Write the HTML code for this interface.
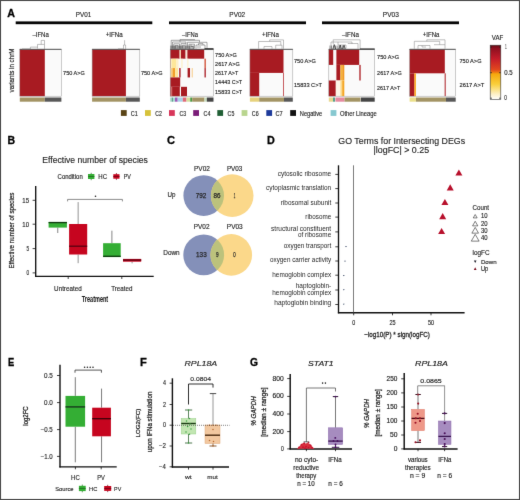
<!DOCTYPE html>
<html><head><meta charset="utf-8"><style>
html,body{margin:0;padding:0;background:#fff;}
svg{display:block;}

text{font-family:"Liberation Sans", sans-serif;}
</style></head><body>
<svg width="520" height="500" viewBox="0 0 520 500">
<defs><linearGradient id="vaf" x1="0" y1="0" x2="0" y2="1"><stop offset="0" stop-color="#6a0a14"/><stop offset="0.06" stop-color="#8e1020"/><stop offset="0.25" stop-color="#c41c2a"/><stop offset="0.45" stop-color="#e2481e"/><stop offset="0.50" stop-color="#ef7a12"/><stop offset="0.53" stop-color="#f6a80c"/><stop offset="0.72" stop-color="#f9cf3c"/><stop offset="0.9" stop-color="#fdf0c4"/><stop offset="1" stop-color="#ffffff"/></linearGradient><clipPath id="cl195"><circle cx="203.7" cy="195.6" r="20.3"/></clipPath><clipPath id="cl254"><circle cx="203.7" cy="254.9" r="20.4"/></clipPath><filter id="bl" x="0" y="0" width="520" height="500" filterUnits="userSpaceOnUse" color-interpolation-filters="sRGB"><feConvolveMatrix order="3" kernelMatrix="0.00524 0.06192 0.00524 0.06192 0.73137 0.06192 0.00524 0.06192 0.00524" divisor="1" edgeMode="duplicate" preserveAlpha="true"/></filter></defs>
<g filter="url(#bl)">
<rect x="0.00" y="0.00" width="520.00" height="500.00" fill="#fff" />
<text x="7.30" y="17.00" font-size="10.90" fill="#000" stroke="#000" stroke-width="0.3" font-weight="bold" font-style="normal" textLength="7.70" lengthAdjust="spacingAndGlyphs">A</text>
<rect x="15.70" y="21.40" width="136.60" height="2.80" fill="#050505" />
<rect x="169.00" y="21.40" width="137.00" height="2.80" fill="#050505" />
<rect x="322.00" y="21.40" width="137.00" height="2.80" fill="#050505" />
<text x="75.80" y="17.00" font-size="7.25" fill="#262626" stroke="#262626" stroke-width="0.14" font-weight="normal" font-style="normal" textLength="15.50" lengthAdjust="spacingAndGlyphs">PV01</text>
<text x="229.30" y="17.00" font-size="7.25" fill="#262626" stroke="#262626" stroke-width="0.14" font-weight="normal" font-style="normal" textLength="15.90" lengthAdjust="spacingAndGlyphs">PV02</text>
<text x="382.80" y="17.00" font-size="7.25" fill="#262626" stroke="#262626" stroke-width="0.14" font-weight="normal" font-style="normal" textLength="16.10" lengthAdjust="spacingAndGlyphs">PV03</text>
<text x="32.40" y="37.10" font-size="6.62" fill="#262626" stroke="#262626" stroke-width="0.14" font-weight="normal" font-style="normal" textLength="16.40" lengthAdjust="spacingAndGlyphs">–IFNa</text>
<text x="105.70" y="37.10" font-size="6.62" fill="#262626" stroke="#262626" stroke-width="0.14" font-weight="normal" font-style="normal" textLength="17.10" lengthAdjust="spacingAndGlyphs">+IFNa</text>
<text x="182.10" y="37.10" font-size="6.62" fill="#262626" stroke="#262626" stroke-width="0.14" font-weight="normal" font-style="normal" textLength="15.90" lengthAdjust="spacingAndGlyphs">–IFNa</text>
<text x="261.90" y="37.10" font-size="6.62" fill="#262626" stroke="#262626" stroke-width="0.14" font-weight="normal" font-style="normal" textLength="17.00" lengthAdjust="spacingAndGlyphs">+IFNa</text>
<text x="341.90" y="37.10" font-size="6.62" fill="#262626" stroke="#262626" stroke-width="0.14" font-weight="normal" font-style="normal" textLength="17.00" lengthAdjust="spacingAndGlyphs">–IFNa</text>
<text x="422.70" y="37.10" font-size="6.62" fill="#262626" stroke="#262626" stroke-width="0.14" font-weight="normal" font-style="normal" textLength="16.70" lengthAdjust="spacingAndGlyphs">+IFNa</text>
<text x="14.30" y="92.40" font-size="7.14" fill="#262626" stroke="#262626" stroke-width="0.2" font-weight="normal" font-style="normal" textLength="43.80" lengthAdjust="spacingAndGlyphs" transform="rotate(-90 14.30 92.40)">variants in chrM</text>
<rect x="19.80" y="49.30" width="41.60" height="46.90" fill="#fafafa" />
<rect x="19.80" y="49.30" width="25.00" height="46.90" fill="#a81b22" />
<rect x="19.80" y="49.30" width="41.60" height="46.90" fill="none" stroke="#9a9a9a" stroke-width="0.5"/>
<line x1="19.80" y1="49.30" x2="61.40" y2="49.30" stroke="#4a4a4a" stroke-width="0.9" />
<rect x="19.80" y="97.50" width="25.00" height="4.20" fill="#a39464" />
<rect x="44.80" y="97.50" width="16.60" height="4.20" fill="#575757" />
<path d="M30.4 49.0 L30.4 47.1 L37.5 47.1" stroke="#8a8a8a" stroke-width="0.55" fill="none" />
<path d="M37.5 48.5 L37.5 44.4 L44.5 44.4 L44.5 49.0" stroke="#8a8a8a" stroke-width="0.55" fill="none" />
<path d="M41.2 44.4 L41.2 40.4 L44.5 40.4 L44.5 44.4" stroke="#8a8a8a" stroke-width="0.55" fill="none" />
<path d="M22.0 48.8 L30.4 48.8" stroke="#8a8a8a" stroke-width="0.55" fill="none" />
<text x="63.10" y="75.20" font-size="5.78" fill="#262626" stroke="#262626" stroke-width="0.14" font-weight="normal" font-style="normal" textLength="21.70" lengthAdjust="spacingAndGlyphs">750 A&gt;G</text>
<rect x="92.10" y="49.30" width="47.70" height="46.90" fill="#fafafa" />
<rect x="92.10" y="49.30" width="33.80" height="46.90" fill="#a81b22" />
<rect x="92.10" y="49.30" width="47.70" height="46.90" fill="none" stroke="#9a9a9a" stroke-width="0.5"/>
<line x1="92.10" y1="49.30" x2="139.80" y2="49.30" stroke="#4a4a4a" stroke-width="0.9" />
<rect x="92.10" y="97.50" width="33.80" height="4.20" fill="#a39464" />
<rect x="125.90" y="97.50" width="13.90" height="4.20" fill="#575757" />
<path d="M118.0 48.8 L123.5 48.8" stroke="#8a8a8a" stroke-width="0.55" fill="none" />
<path d="M123.5 49.0 L123.5 45.0 L125.6 45.0 L125.6 49.0" stroke="#8a8a8a" stroke-width="0.55" fill="none" />
<path d="M124.6 45.0 L124.6 40.2" stroke="#8a8a8a" stroke-width="0.55" fill="none" />
<text x="140.90" y="75.20" font-size="5.78" fill="#262626" stroke="#262626" stroke-width="0.14" font-weight="normal" font-style="normal" textLength="21.80" lengthAdjust="spacingAndGlyphs">750 A&gt;G</text>
<rect x="170.20" y="49.30" width="43.30" height="46.90" fill="#fafafa" />
<rect x="170.20" y="49.30" width="9.40" height="9.38" fill="#a81b22" />
<rect x="179.60" y="49.30" width="1.40" height="9.38" fill="#f3d0b0" />
<rect x="181.00" y="49.30" width="4.60" height="9.38" fill="#a81b22" />
<rect x="185.60" y="49.30" width="1.80" height="9.38" fill="#f8e8d8" />
<rect x="187.40" y="49.30" width="16.80" height="9.38" fill="#a81b22" />
<rect x="170.20" y="58.68" width="0.80" height="9.38" fill="#e7b090" />
<rect x="171.40" y="58.68" width="4.60" height="9.38" fill="#fde79a" />
<rect x="176.00" y="58.68" width="2.50" height="9.38" fill="#fdf0c8" />
<rect x="181.30" y="58.68" width="1.30" height="9.38" fill="#fdf0c8" />
<rect x="187.30" y="58.68" width="1.10" height="9.38" fill="#fdf0c8" />
<rect x="204.50" y="58.68" width="1.30" height="9.38" fill="#cf4a2e" />
<rect x="170.20" y="68.06" width="1.10" height="9.38" fill="#f7e0b0" />
<rect x="171.30" y="68.06" width="1.30" height="9.38" fill="#f7c060" />
<rect x="172.60" y="68.06" width="2.60" height="9.38" fill="#f1a02a" />
<rect x="175.20" y="68.06" width="2.80" height="9.38" fill="#fde79a" />
<rect x="179.20" y="68.06" width="1.40" height="9.38" fill="#a81b22" />
<rect x="187.60" y="68.06" width="2.40" height="9.38" fill="#a81b22" />
<rect x="191.60" y="68.06" width="1.40" height="9.38" fill="#f8d8a8" />
<rect x="204.50" y="68.06" width="1.30" height="9.38" fill="#a81b22" />
<rect x="170.20" y="77.44" width="10.00" height="9.38" fill="#a81b22" />
<rect x="170.20" y="86.82" width="1.20" height="9.38" fill="#a81b22" />
<rect x="171.40" y="86.82" width="0.70" height="9.38" fill="#d04a4a" />
<rect x="172.10" y="86.82" width="7.70" height="9.38" fill="#a81b22" />
<rect x="181.00" y="86.82" width="6.00" height="9.38" fill="#a81b22" />
<rect x="170.20" y="49.30" width="43.30" height="46.90" fill="none" stroke="#9a9a9a" stroke-width="0.5"/>
<line x1="170.20" y1="49.30" x2="213.50" y2="49.30" stroke="#4a4a4a" stroke-width="0.9" />
<rect x="170.20" y="97.50" width="1.50" height="4.20" fill="#a8d8c8" />
<rect x="171.70" y="97.50" width="1.30" height="4.20" fill="#5f9e8e" />
<rect x="173.00" y="97.50" width="2.00" height="4.20" fill="#a8d8d0" />
<rect x="175.00" y="97.50" width="2.70" height="4.20" fill="#9b59b6" />
<rect x="177.70" y="97.50" width="5.10" height="4.20" fill="#a8d0e8" />
<rect x="182.80" y="97.50" width="3.70" height="4.20" fill="#e06a78" />
<rect x="186.50" y="97.50" width="3.70" height="4.20" fill="#d6e0a0" />
<rect x="190.20" y="97.50" width="2.00" height="4.20" fill="#4f9a45" />
<rect x="192.20" y="97.50" width="12.30" height="4.20" fill="#a39464" />
<rect x="204.50" y="97.50" width="2.30" height="4.20" fill="#c8e0c0" />
<rect x="206.80" y="97.50" width="6.70" height="4.20" fill="#454545" />
<path d="M171.2 48.5 L171.2 40.3 L199.5 40.3 L199.5 42.3" stroke="#5e5e5e" stroke-width="0.55" fill="none" />
<path d="M172.5 48.5 L172.5 42.0 L186.0 42.0 L186.0 43.6" stroke="#5e5e5e" stroke-width="0.55" fill="none" />
<path d="M180.0 42.0 L180.0 39.6 L195.0 39.6" stroke="#5e5e5e" stroke-width="0.55" fill="none" />
<path d="M187.5 48.5 L187.5 42.3 L207.0 42.3 L207.0 48.5" stroke="#5e5e5e" stroke-width="0.55" fill="none" />
<path d="M173.8 48.5 L173.8 43.8 L179.5 43.8 L179.5 48.5" stroke="#5e5e5e" stroke-width="0.55" fill="none" />
<path d="M175.2 48.5 L175.2 45.4 L178.0 45.4 L178.0 48.5" stroke="#5e5e5e" stroke-width="0.55" fill="none" />
<path d="M181.0 48.5 L181.0 43.6 L186.0 43.6 L186.0 48.5" stroke="#5e5e5e" stroke-width="0.55" fill="none" />
<path d="M182.6 48.5 L182.6 45.2 L185.0 45.2" stroke="#5e5e5e" stroke-width="0.55" fill="none" />
<path d="M189.0 48.5 L189.0 44.2 L194.5 44.2 L194.5 48.5" stroke="#5e5e5e" stroke-width="0.55" fill="none" />
<path d="M191.0 44.2 L191.0 46.5 L193.0 46.5" stroke="#5e5e5e" stroke-width="0.55" fill="none" />
<path d="M196.0 48.5 L196.0 45.0 L205.0 45.0 L205.0 48.5" stroke="#5e5e5e" stroke-width="0.55" fill="none" />
<path d="M198.5 45.0 L198.5 43.6 L203.0 43.6 L203.0 45.0" stroke="#5e5e5e" stroke-width="0.55" fill="none" />
<path d="M197.0 47.0 L201.0 47.0" stroke="#5e5e5e" stroke-width="0.55" fill="none" />
<line x1="170.80" y1="45.60" x2="170.80" y2="49.00" stroke="#1a1a1a" stroke-width="0.5" />
<line x1="172.00" y1="45.60" x2="172.00" y2="49.00" stroke="#1a1a1a" stroke-width="0.5" />
<line x1="173.20" y1="45.60" x2="173.20" y2="49.00" stroke="#1a1a1a" stroke-width="0.5" />
<line x1="174.40" y1="45.60" x2="174.40" y2="49.00" stroke="#1a1a1a" stroke-width="0.5" />
<line x1="175.60" y1="45.60" x2="175.60" y2="49.00" stroke="#1a1a1a" stroke-width="0.5" />
<line x1="176.80" y1="45.60" x2="176.80" y2="49.00" stroke="#1a1a1a" stroke-width="0.5" />
<line x1="178.00" y1="45.60" x2="178.00" y2="49.00" stroke="#1a1a1a" stroke-width="0.5" />
<line x1="179.30" y1="45.60" x2="179.30" y2="49.00" stroke="#1a1a1a" stroke-width="0.5" />
<line x1="180.60" y1="45.60" x2="180.60" y2="49.00" stroke="#1a1a1a" stroke-width="0.5" />
<line x1="181.80" y1="45.60" x2="181.80" y2="49.00" stroke="#1a1a1a" stroke-width="0.5" />
<line x1="183.00" y1="45.60" x2="183.00" y2="49.00" stroke="#1a1a1a" stroke-width="0.5" />
<line x1="184.20" y1="45.60" x2="184.20" y2="49.00" stroke="#1a1a1a" stroke-width="0.5" />
<line x1="185.40" y1="45.60" x2="185.40" y2="49.00" stroke="#1a1a1a" stroke-width="0.5" />
<line x1="186.80" y1="45.60" x2="186.80" y2="49.00" stroke="#1a1a1a" stroke-width="0.5" />
<line x1="188.20" y1="45.60" x2="188.20" y2="49.00" stroke="#1a1a1a" stroke-width="0.5" />
<line x1="189.50" y1="45.60" x2="189.50" y2="49.00" stroke="#1a1a1a" stroke-width="0.5" />
<line x1="190.80" y1="45.60" x2="190.80" y2="49.00" stroke="#1a1a1a" stroke-width="0.5" />
<line x1="192.20" y1="45.60" x2="192.20" y2="49.00" stroke="#1a1a1a" stroke-width="0.5" />
<line x1="193.50" y1="45.60" x2="193.50" y2="49.00" stroke="#1a1a1a" stroke-width="0.5" />
<line x1="204.50" y1="48.80" x2="213.50" y2="48.80" stroke="#111" stroke-width="1.0" />
<text x="215.10" y="56.60" font-size="5.78" fill="#262626" stroke="#262626" stroke-width="0.14" font-weight="normal" font-style="normal" textLength="21.80" lengthAdjust="spacingAndGlyphs">750 A&gt;G</text>
<text x="215.10" y="65.90" font-size="5.78" fill="#262626" stroke="#262626" stroke-width="0.14" font-weight="normal" font-style="normal" textLength="24.60" lengthAdjust="spacingAndGlyphs">2617 A&gt;G</text>
<text x="215.10" y="75.30" font-size="5.78" fill="#262626" stroke="#262626" stroke-width="0.14" font-weight="normal" font-style="normal" textLength="23.10" lengthAdjust="spacingAndGlyphs">2617 A&gt;T</text>
<text x="215.10" y="84.30" font-size="5.78" fill="#262626" stroke="#262626" stroke-width="0.14" font-weight="normal" font-style="normal" textLength="27.10" lengthAdjust="spacingAndGlyphs">14443 C&gt;T</text>
<text x="215.10" y="93.70" font-size="5.78" fill="#262626" stroke="#262626" stroke-width="0.14" font-weight="normal" font-style="normal" textLength="27.10" lengthAdjust="spacingAndGlyphs">15833 C&gt;T</text>
<rect x="249.90" y="49.30" width="42.90" height="46.90" fill="#fafafa" />
<rect x="249.90" y="49.30" width="33.60" height="23.60" fill="#a81b22" />
<rect x="249.90" y="72.90" width="9.30" height="23.30" fill="#a81b22" />
<rect x="283.00" y="72.90" width="0.90" height="23.30" fill="#c04a50" />
<rect x="249.90" y="49.30" width="42.90" height="46.90" fill="none" stroke="#9a9a9a" stroke-width="0.5"/>
<line x1="249.90" y1="49.30" x2="292.80" y2="49.30" stroke="#4a4a4a" stroke-width="0.9" />
<rect x="249.90" y="97.50" width="9.30" height="4.20" fill="#e6d27c" />
<rect x="259.20" y="97.50" width="24.80" height="4.20" fill="#a39464" />
<rect x="284.00" y="97.50" width="8.80" height="4.20" fill="#575757" />
<path d="M258.6 48.8 L258.6 41.5 L280.8 41.5 L280.8 45.2" stroke="#8a8a8a" stroke-width="0.55" fill="none" />
<path d="M269.7 41.5 L269.7 39.9 L283.5 39.9 L283.5 48.8" stroke="#8a8a8a" stroke-width="0.55" fill="none" />
<path d="M275.7 48.8 L275.7 45.2 L282.0 45.2 L282.0 48.8" stroke="#8a8a8a" stroke-width="0.55" fill="none" />
<path d="M264.0 48.8 L264.0 46.5 L272.0 46.5 L272.0 48.8" stroke="#8a8a8a" stroke-width="0.55" fill="none" />
<text x="293.90" y="63.30" font-size="5.78" fill="#262626" stroke="#262626" stroke-width="0.14" font-weight="normal" font-style="normal" textLength="22.00" lengthAdjust="spacingAndGlyphs">750 A&gt;G</text>
<text x="293.90" y="86.50" font-size="5.78" fill="#262626" stroke="#262626" stroke-width="0.14" font-weight="normal" font-style="normal" textLength="28.00" lengthAdjust="spacingAndGlyphs">15833 C&gt;T</text>
<rect x="328.80" y="49.30" width="45.90" height="46.90" fill="#fafafa" />
<rect x="328.80" y="49.30" width="4.40" height="15.60" fill="#a81b22" />
<rect x="336.40" y="49.30" width="22.80" height="15.60" fill="#a81b22" />
<rect x="336.40" y="64.90" width="4.00" height="15.60" fill="#a81b22" />
<rect x="340.40" y="64.90" width="1.80" height="15.60" fill="#f4b43a" />
<rect x="342.20" y="64.90" width="2.10" height="15.60" fill="#f29a20" />
<rect x="359.30" y="64.90" width="1.40" height="15.60" fill="#b02a30" />
<rect x="328.80" y="80.50" width="7.00" height="15.70" fill="#a81b22" />
<rect x="335.80" y="80.50" width="4.60" height="15.70" fill="#fdf6e8" />
<rect x="340.40" y="80.50" width="1.80" height="15.70" fill="#fbd98a" />
<rect x="342.20" y="80.50" width="2.10" height="15.70" fill="#f5a623" />
<rect x="328.80" y="49.30" width="45.90" height="46.90" fill="none" stroke="#9a9a9a" stroke-width="0.5"/>
<line x1="328.80" y1="49.30" x2="374.70" y2="49.30" stroke="#4a4a4a" stroke-width="0.9" />
<rect x="328.80" y="97.50" width="4.20" height="4.20" fill="#e8d890" />
<rect x="333.00" y="97.50" width="2.00" height="4.20" fill="#5aa08a" />
<rect x="335.40" y="97.50" width="9.10" height="4.20" fill="#e58aa0" />
<rect x="344.50" y="97.50" width="15.90" height="4.20" fill="#a39464" />
<rect x="360.80" y="97.50" width="13.90" height="4.20" fill="#454545" />
<path d="M333.2 44.0 L333.2 39.8 L360.1 39.8 L360.1 48.8" stroke="#8a8a8a" stroke-width="0.55" fill="none" />
<path d="M331.0 48.5 L331.0 42.0 L352.0 42.0 L352.0 44.0" stroke="#8a8a8a" stroke-width="0.55" fill="none" />
<path d="M338.0 42.0 L338.0 45.0 L346.0 45.0 L346.0 48.5" stroke="#8a8a8a" stroke-width="0.55" fill="none" />
<path d="M348.0 44.0 L348.0 43.5 L358.0 43.5 L358.0 48.8" stroke="#8a8a8a" stroke-width="0.55" fill="none" />
<line x1="330.00" y1="45.50" x2="330.00" y2="49.00" stroke="#222" stroke-width="0.5" />
<line x1="331.60" y1="45.50" x2="331.60" y2="49.00" stroke="#222" stroke-width="0.5" />
<line x1="334.00" y1="45.50" x2="334.00" y2="49.00" stroke="#222" stroke-width="0.5" />
<line x1="335.60" y1="45.50" x2="335.60" y2="49.00" stroke="#222" stroke-width="0.5" />
<line x1="337.20" y1="45.50" x2="337.20" y2="49.00" stroke="#222" stroke-width="0.5" />
<line x1="339.00" y1="45.50" x2="339.00" y2="49.00" stroke="#222" stroke-width="0.5" />
<line x1="340.60" y1="45.50" x2="340.60" y2="49.00" stroke="#222" stroke-width="0.5" />
<line x1="342.40" y1="45.50" x2="342.40" y2="49.00" stroke="#222" stroke-width="0.5" />
<line x1="344.00" y1="45.50" x2="344.00" y2="49.00" stroke="#222" stroke-width="0.5" />
<path d="M332.9 49 L334.2 44.5 L335.5 49" stroke="#111" stroke-width="0.6" fill="none" />
<path d="M338.9 49 L340.2 45.0 L341.5 49" stroke="#111" stroke-width="0.6" fill="none" />
<path d="M342.7 49 L344.0 45.2 L345.3 49" stroke="#111" stroke-width="0.6" fill="none" />
<line x1="360.00" y1="48.90" x2="374.70" y2="48.90" stroke="#222" stroke-width="0.8" />
<text x="377.10" y="59.30" font-size="5.78" fill="#262626" stroke="#262626" stroke-width="0.14" font-weight="normal" font-style="normal" textLength="22.00" lengthAdjust="spacingAndGlyphs">750 A&gt;G</text>
<text x="377.10" y="75.30" font-size="5.78" fill="#262626" stroke="#262626" stroke-width="0.14" font-weight="normal" font-style="normal" textLength="24.60" lengthAdjust="spacingAndGlyphs">2617 A&gt;G</text>
<text x="377.10" y="90.20" font-size="5.78" fill="#262626" stroke="#262626" stroke-width="0.14" font-weight="normal" font-style="normal" textLength="23.10" lengthAdjust="spacingAndGlyphs">2617 A&gt;T</text>
<rect x="409.60" y="49.30" width="46.10" height="46.90" fill="#fafafa" />
<rect x="409.60" y="49.30" width="35.20" height="24.00" fill="#a81b22" />
<rect x="409.60" y="73.30" width="4.40" height="22.90" fill="#a81b22" />
<rect x="414.00" y="73.30" width="0.80" height="22.90" fill="#f07a20" />
<rect x="414.80" y="73.30" width="1.20" height="22.90" fill="#f8b030" />
<rect x="444.60" y="73.30" width="1.20" height="22.90" fill="#b84248" />
<rect x="409.60" y="49.30" width="46.10" height="46.90" fill="none" stroke="#9a9a9a" stroke-width="0.5"/>
<line x1="409.60" y1="49.30" x2="455.70" y2="49.30" stroke="#4a4a4a" stroke-width="0.9" />
<rect x="409.60" y="97.50" width="6.40" height="4.20" fill="#ebe08c" />
<rect x="416.00" y="97.50" width="30.00" height="4.20" fill="#a39464" />
<rect x="446.00" y="97.50" width="9.70" height="4.20" fill="#575757" />
<path d="M426.8 41.3 L426.8 39.8 L445.0 39.8 L445.0 48.8" stroke="#8a8a8a" stroke-width="0.55" fill="none" />
<path d="M414.3 48.8 L414.3 41.3 L439.7 41.3 L439.7 44.7" stroke="#8a8a8a" stroke-width="0.55" fill="none" />
<path d="M434.0 44.7 L445.0 44.7" stroke="#8a8a8a" stroke-width="0.55" fill="none" />
<path d="M418.0 48.8 L418.0 45.5 L430.0 45.5 L430.0 48.8" stroke="#8a8a8a" stroke-width="0.55" fill="none" />
<path d="M422.0 45.5 L422.0 47.0 L426.0 47.0" stroke="#8a8a8a" stroke-width="0.55" fill="none" />
<text x="459.50" y="63.30" font-size="5.78" fill="#262626" stroke="#262626" stroke-width="0.14" font-weight="normal" font-style="normal" textLength="22.00" lengthAdjust="spacingAndGlyphs">750 A&gt;G</text>
<text x="459.50" y="86.50" font-size="5.78" fill="#262626" stroke="#262626" stroke-width="0.14" font-weight="normal" font-style="normal" textLength="24.80" lengthAdjust="spacingAndGlyphs">2617 A&gt;T</text>
<rect x="490.2" y="45.2" width="10.6" height="54.2" fill="url(#vaf)" stroke="#3a3a3a" stroke-width="0.6"/>
<line x1="490.20" y1="47.10" x2="492.00" y2="47.10" stroke="#222" stroke-width="0.7" />
<line x1="499.00" y1="47.10" x2="500.80" y2="47.10" stroke="#222" stroke-width="0.7" />
<line x1="490.20" y1="72.70" x2="492.00" y2="72.70" stroke="#222" stroke-width="0.7" />
<line x1="499.00" y1="72.70" x2="500.80" y2="72.70" stroke="#222" stroke-width="0.7" />
<line x1="490.20" y1="98.20" x2="492.00" y2="98.20" stroke="#222" stroke-width="0.7" />
<line x1="499.00" y1="98.20" x2="500.80" y2="98.20" stroke="#222" stroke-width="0.7" />
<text x="491.80" y="39.50" font-size="6.51" fill="#262626" stroke="#262626" stroke-width="0.14" font-weight="normal" font-style="normal" textLength="11.50" lengthAdjust="spacingAndGlyphs">VAF</text>
<text x="505.30" y="49.30" font-size="6.30" fill="#262626" stroke="#262626" stroke-width="0.14" font-weight="normal" font-style="normal" textLength="1.30" lengthAdjust="spacingAndGlyphs">1</text>
<text x="504.30" y="75.10" font-size="6.30" fill="#262626" stroke="#262626" stroke-width="0.14" font-weight="normal" font-style="normal" textLength="8.40" lengthAdjust="spacingAndGlyphs">0.5</text>
<text x="504.30" y="100.10" font-size="6.30" fill="#262626" stroke="#262626" stroke-width="0.14" font-weight="normal" font-style="normal" textLength="2.60" lengthAdjust="spacingAndGlyphs">0</text>
<rect x="120.90" y="110.10" width="5.80" height="5.80" fill="#5a4416" />
<text x="130.70" y="115.70" font-size="6.72" fill="#262626" stroke="#262626" stroke-width="0.14" font-weight="normal" font-style="normal" textLength="7.00" lengthAdjust="spacingAndGlyphs">C1</text>
<rect x="145.00" y="110.10" width="5.80" height="5.80" fill="#d6c23a" />
<text x="155.30" y="115.70" font-size="6.72" fill="#262626" stroke="#262626" stroke-width="0.14" font-weight="normal" font-style="normal" textLength="6.60" lengthAdjust="spacingAndGlyphs">C2</text>
<rect x="169.00" y="110.10" width="5.80" height="5.80" fill="#d8365a" />
<text x="179.60" y="115.70" font-size="6.72" fill="#262626" stroke="#262626" stroke-width="0.14" font-weight="normal" font-style="normal" textLength="6.60" lengthAdjust="spacingAndGlyphs">C3</text>
<rect x="193.20" y="110.10" width="5.80" height="5.80" fill="#7a1c78" />
<text x="203.60" y="115.70" font-size="6.72" fill="#262626" stroke="#262626" stroke-width="0.14" font-weight="normal" font-style="normal" textLength="6.90" lengthAdjust="spacingAndGlyphs">C4</text>
<rect x="217.30" y="110.10" width="5.80" height="5.80" fill="#1f5e34" />
<text x="227.60" y="115.70" font-size="6.72" fill="#262626" stroke="#262626" stroke-width="0.14" font-weight="normal" font-style="normal" textLength="6.70" lengthAdjust="spacingAndGlyphs">C5</text>
<rect x="241.60" y="110.10" width="5.80" height="5.80" fill="#b9d58e" />
<text x="251.80" y="115.70" font-size="6.72" fill="#262626" stroke="#262626" stroke-width="0.14" font-weight="normal" font-style="normal" textLength="6.80" lengthAdjust="spacingAndGlyphs">C6</text>
<rect x="266.30" y="110.10" width="5.80" height="5.80" fill="#1d3a9a" />
<text x="275.50" y="115.70" font-size="6.72" fill="#262626" stroke="#262626" stroke-width="0.14" font-weight="normal" font-style="normal" textLength="7.20" lengthAdjust="spacingAndGlyphs">C7</text>
<rect x="290.20" y="110.10" width="5.80" height="5.80" fill="#111111" />
<text x="299.80" y="115.70" font-size="6.72" fill="#262626" stroke="#262626" stroke-width="0.14" font-weight="normal" font-style="normal" textLength="22.40" lengthAdjust="spacingAndGlyphs">Negative</text>
<rect x="330.60" y="110.10" width="5.80" height="5.80" fill="#86c8d0" />
<text x="339.90" y="115.70" font-size="6.72" fill="#262626" stroke="#262626" stroke-width="0.14" font-weight="normal" font-style="normal" textLength="36.80" lengthAdjust="spacingAndGlyphs">Other Lineage</text>
<text x="7.50" y="143.60" font-size="10.90" fill="#000" stroke="#000" stroke-width="0.3" font-weight="bold" font-style="normal" textLength="7.60" lengthAdjust="spacingAndGlyphs">B</text>
<text x="42.30" y="162.70" font-size="9.03" fill="#262626" stroke="#262626" stroke-width="0.14" font-weight="normal" font-style="normal" textLength="105.60" lengthAdjust="spacingAndGlyphs">Effective number of species</text>
<text x="57.60" y="178.70" font-size="6.30" fill="#262626" stroke="#262626" stroke-width="0.14" font-weight="normal" font-style="normal" textLength="25.10" lengthAdjust="spacingAndGlyphs">Condition</text>
<line x1="91.20" y1="172.80" x2="91.20" y2="180.20" stroke="#1f6a1f" stroke-width="0.7" />
<rect x="88.00" y="174.00" width="6.40" height="5.00" fill="#34ae34" />
<line x1="88.00" y1="176.50" x2="94.40" y2="176.50" stroke="#1f6a1f" stroke-width="0.8" />
<text x="98.30" y="178.80" font-size="6.30" fill="#262626" stroke="#262626" stroke-width="0.14" font-weight="normal" font-style="normal" textLength="8.70" lengthAdjust="spacingAndGlyphs">HC</text>
<line x1="116.40" y1="173.00" x2="116.40" y2="179.90" stroke="#6a0010" stroke-width="0.7" />
<rect x="113.30" y="174.20" width="6.20" height="4.50" fill="#c6051f" />
<line x1="113.30" y1="176.45" x2="119.50" y2="176.45" stroke="#6a0010" stroke-width="0.8" />
<text x="123.80" y="178.80" font-size="6.30" fill="#262626" stroke="#262626" stroke-width="0.14" font-weight="normal" font-style="normal" textLength="7.10" lengthAdjust="spacingAndGlyphs">PV</text>
<line x1="35.70" y1="186.00" x2="35.70" y2="276.90" stroke="#111111" stroke-width="1.35" />
<line x1="35.20" y1="276.40" x2="153.70" y2="276.40" stroke="#111111" stroke-width="1.4" />
<line x1="32.60" y1="200.30" x2="35.70" y2="200.30" stroke="#111111" stroke-width="0.8" />
<text x="22.30" y="202.60" font-size="6.93" fill="#262626" stroke="#262626" stroke-width="0.14" font-weight="normal" font-style="normal" textLength="6.70" lengthAdjust="spacingAndGlyphs">15</text>
<line x1="32.60" y1="224.20" x2="35.70" y2="224.20" stroke="#111111" stroke-width="0.8" />
<text x="22.30" y="226.50" font-size="6.93" fill="#262626" stroke="#262626" stroke-width="0.14" font-weight="normal" font-style="normal" textLength="6.70" lengthAdjust="spacingAndGlyphs">10</text>
<line x1="32.60" y1="248.60" x2="35.70" y2="248.60" stroke="#111111" stroke-width="0.8" />
<text x="26.40" y="250.90" font-size="6.93" fill="#262626" stroke="#262626" stroke-width="0.14" font-weight="normal" font-style="normal" textLength="2.60" lengthAdjust="spacingAndGlyphs">5</text>
<line x1="32.60" y1="272.90" x2="35.70" y2="272.90" stroke="#111111" stroke-width="0.8" />
<text x="26.40" y="275.20" font-size="6.93" fill="#262626" stroke="#262626" stroke-width="0.14" font-weight="normal" font-style="normal" textLength="2.60" lengthAdjust="spacingAndGlyphs">0</text>
<text x="14.10" y="268.60" font-size="7.14" fill="#262626" stroke="#262626" stroke-width="0.22" font-weight="normal" font-style="normal" textLength="76.00" lengthAdjust="spacingAndGlyphs" transform="rotate(-90 14.10 268.60)">Effective number of species</text>
<line x1="68.20" y1="276.40" x2="68.20" y2="279.00" stroke="#111111" stroke-width="0.8" />
<line x1="121.80" y1="276.40" x2="121.80" y2="279.00" stroke="#111111" stroke-width="0.8" />
<text x="54.10" y="291.00" font-size="6.51" fill="#262626" stroke="#262626" stroke-width="0.14" font-weight="normal" font-style="normal" textLength="27.60" lengthAdjust="spacingAndGlyphs">Untreated</text>
<text x="111.20" y="291.00" font-size="6.51" fill="#262626" stroke="#262626" stroke-width="0.14" font-weight="normal" font-style="normal" textLength="21.20" lengthAdjust="spacingAndGlyphs">Treated</text>
<text x="81.80" y="301.80" font-size="9.03" fill="#1a1a1a" stroke="#1a1a1a" stroke-width="0.05" font-weight="bold" font-style="normal" textLength="26.40" lengthAdjust="spacingAndGlyphs">Treatment</text>
<line x1="57.75" y1="227.60" x2="57.75" y2="233.00" stroke="#777" stroke-width="0.9" />
<rect x="48.60" y="221.90" width="18.30" height="5.70" fill="#34ae34" />
<line x1="48.60" y1="222.60" x2="66.90" y2="222.60" stroke="#0e3a0e" stroke-width="1.3" />
<line x1="78.15" y1="202.10" x2="78.15" y2="224.00" stroke="#888" stroke-width="0.9" />
<line x1="78.15" y1="254.50" x2="78.15" y2="263.20" stroke="#888" stroke-width="0.9" />
<rect x="69.10" y="224.00" width="18.10" height="30.50" fill="#c6051f" />
<line x1="69.10" y1="246.20" x2="87.20" y2="246.20" stroke="#5a0010" stroke-width="1.3" />
<line x1="111.90" y1="230.70" x2="111.90" y2="243.20" stroke="#777" stroke-width="0.9" />
<rect x="103.10" y="243.20" width="17.60" height="13.90" fill="#34ae34" />
<line x1="103.10" y1="256.30" x2="120.70" y2="256.30" stroke="#0e3a0e" stroke-width="1.3" />
<line x1="132.10" y1="261.70" x2="132.10" y2="263.30" stroke="#888" stroke-width="0.9" />
<rect x="123.00" y="258.90" width="18.20" height="2.80" fill="#c6051f" />
<line x1="123.00" y1="260.10" x2="141.20" y2="260.10" stroke="#5a0010" stroke-width="1.3" />
<path d="M67.6 201.4 V199.4 H122.4 V201.4" stroke="#666" stroke-width="0.75" fill="none" />
<circle cx="95.50" cy="196.30" r="0.8" fill="#222"/>
<text x="167.10" y="143.70" font-size="10.90" fill="#000" stroke="#000" stroke-width="0.3" font-weight="bold" font-style="normal" textLength="8.00" lengthAdjust="spacingAndGlyphs">C</text>
<circle cx="203.7" cy="195.6" r="20.3" fill="#8490b9"/>
<circle cx="232.20000000000002" cy="195.6" r="21.299999999999997" fill="#fbd88a"/>
<circle cx="232.20000000000002" cy="195.6" r="21.299999999999997" fill="#bcc27c" clip-path="url(#cl195)"/>
<text x="194.00" y="170.90" font-size="6.51" fill="#262626" stroke="#262626" stroke-width="0.14" font-weight="normal" font-style="normal" textLength="15.90" lengthAdjust="spacingAndGlyphs">PV02</text>
<text x="226.90" y="170.90" font-size="6.51" fill="#262626" stroke="#262626" stroke-width="0.14" font-weight="normal" font-style="normal" textLength="15.50" lengthAdjust="spacingAndGlyphs">PV03</text>
<text x="167.60" y="196.90" font-size="6.51" fill="#262626" stroke="#262626" stroke-width="0.14" font-weight="normal" font-style="normal" textLength="8.00" lengthAdjust="spacingAndGlyphs">Up</text>
<text x="195.80" y="197.90" font-size="6.93" fill="#262626" stroke="#262626" stroke-width="0.25" font-weight="normal" font-style="normal" textLength="10.60" lengthAdjust="spacingAndGlyphs">792</text>
<text x="213.60" y="197.90" font-size="6.93" fill="#262626" stroke="#262626" stroke-width="0.25" font-weight="normal" font-style="normal" textLength="7.00" lengthAdjust="spacingAndGlyphs">86</text>
<text x="233.80" y="197.90" font-size="6.93" fill="#262626" stroke="#262626" stroke-width="0.25" font-weight="normal" font-style="normal" textLength="1.50" lengthAdjust="spacingAndGlyphs">1</text>
<circle cx="203.7" cy="254.9" r="20.4" fill="#8490b9"/>
<circle cx="231.3" cy="254.9" r="20.799999999999997" fill="#fbd88a"/>
<circle cx="231.3" cy="254.9" r="20.799999999999997" fill="#bcc27c" clip-path="url(#cl254)"/>
<text x="193.80" y="229.10" font-size="6.51" fill="#262626" stroke="#262626" stroke-width="0.14" font-weight="normal" font-style="normal" textLength="15.70" lengthAdjust="spacingAndGlyphs">PV02</text>
<text x="226.80" y="229.10" font-size="6.51" fill="#262626" stroke="#262626" stroke-width="0.14" font-weight="normal" font-style="normal" textLength="15.90" lengthAdjust="spacingAndGlyphs">PV03</text>
<text x="163.30" y="254.80" font-size="6.51" fill="#262626" stroke="#262626" stroke-width="0.14" font-weight="normal" font-style="normal" textLength="16.40" lengthAdjust="spacingAndGlyphs">Down</text>
<text x="196.10" y="257.20" font-size="6.93" fill="#262626" stroke="#262626" stroke-width="0.25" font-weight="normal" font-style="normal" textLength="10.60" lengthAdjust="spacingAndGlyphs">133</text>
<text x="215.90" y="257.20" font-size="6.93" fill="#262626" stroke="#262626" stroke-width="0.25" font-weight="normal" font-style="normal" textLength="2.60" lengthAdjust="spacingAndGlyphs">9</text>
<text x="233.30" y="257.20" font-size="6.93" fill="#262626" stroke="#262626" stroke-width="0.25" font-weight="normal" font-style="normal" textLength="2.40" lengthAdjust="spacingAndGlyphs">0</text>
<text x="267.10" y="143.50" font-size="10.90" fill="#000" stroke="#000" stroke-width="0.3" font-weight="bold" font-style="normal" textLength="7.80" lengthAdjust="spacingAndGlyphs">D</text>
<text x="338.30" y="144.10" font-size="9.13" fill="#262626" stroke="#262626" stroke-width="0.14" font-weight="normal" font-style="normal" textLength="126.80" lengthAdjust="spacingAndGlyphs">GO Terms for Intersecting DEGs</text>
<text x="373.50" y="153.00" font-size="8.70" fill="#262626" stroke="#262626" stroke-width="0.14" font-weight="normal" font-style="normal" textLength="55.60" lengthAdjust="spacingAndGlyphs">|logFC| &gt; 0.25</text>
<line x1="338.50" y1="165.30" x2="338.50" y2="313.30" stroke="#111111" stroke-width="1.35" />
<line x1="337.90" y1="312.70" x2="464.60" y2="312.70" stroke="#111111" stroke-width="1.35" />
<line x1="353.50" y1="165.30" x2="353.50" y2="312.70" stroke="#5a5a5a" stroke-width="0.8" />
<text x="277.70" y="175.65" font-size="6.30" fill="#262626" font-weight="normal" font-style="normal" textLength="53.50" lengthAdjust="spacingAndGlyphs">cytosolic ribosome</text>
<line x1="335.30" y1="174.40" x2="338.50" y2="174.40" stroke="#111111" stroke-width="0.8" />
<text x="266.10" y="190.25" font-size="6.30" fill="#262626" font-weight="normal" font-style="normal" textLength="65.10" lengthAdjust="spacingAndGlyphs">cytoplasmic translation</text>
<line x1="335.30" y1="188.60" x2="338.50" y2="188.60" stroke="#111111" stroke-width="0.8" />
<text x="280.80" y="204.55" font-size="6.30" fill="#262626" font-weight="normal" font-style="normal" textLength="50.40" lengthAdjust="spacingAndGlyphs">ribosomal subunit</text>
<line x1="335.30" y1="203.00" x2="338.50" y2="203.00" stroke="#111111" stroke-width="0.8" />
<text x="305.30" y="219.05" font-size="6.30" fill="#262626" font-weight="normal" font-style="normal" textLength="25.90" lengthAdjust="spacingAndGlyphs">ribosome</text>
<line x1="335.30" y1="217.10" x2="338.50" y2="217.10" stroke="#111111" stroke-width="0.8" />
<text x="271.10" y="230.55" font-size="6.30" fill="#262626" font-weight="normal" font-style="normal" textLength="60.10" lengthAdjust="spacingAndGlyphs">structural constituent</text>
<text x="298.00" y="236.75" font-size="6.30" fill="#262626" font-weight="normal" font-style="normal" textLength="33.20" lengthAdjust="spacingAndGlyphs">of ribosome</text>
<line x1="335.30" y1="231.90" x2="338.50" y2="231.90" stroke="#111111" stroke-width="0.8" />
<text x="283.80" y="248.15" font-size="6.30" fill="#262626" font-weight="normal" font-style="normal" textLength="47.40" lengthAdjust="spacingAndGlyphs">oxygen transport</text>
<line x1="335.30" y1="246.80" x2="338.50" y2="246.80" stroke="#111111" stroke-width="0.8" />
<text x="270.00" y="262.25" font-size="6.30" fill="#262626" font-weight="normal" font-style="normal" textLength="61.20" lengthAdjust="spacingAndGlyphs">oxygen carrier activity</text>
<line x1="335.30" y1="261.00" x2="338.50" y2="261.00" stroke="#111111" stroke-width="0.8" />
<text x="272.30" y="276.85" font-size="6.30" fill="#262626" font-weight="normal" font-style="normal" textLength="58.90" lengthAdjust="spacingAndGlyphs">hemoglobin complex</text>
<line x1="335.30" y1="275.20" x2="338.50" y2="275.20" stroke="#111111" stroke-width="0.8" />
<text x="295.80" y="288.45" font-size="6.30" fill="#262626" font-weight="normal" font-style="normal" textLength="35.40" lengthAdjust="spacingAndGlyphs">haptoglobin-</text>
<text x="272.30" y="294.55" font-size="6.30" fill="#262626" font-weight="normal" font-style="normal" textLength="58.90" lengthAdjust="spacingAndGlyphs">hemoglobin complex</text>
<line x1="335.30" y1="290.00" x2="338.50" y2="290.00" stroke="#111111" stroke-width="0.8" />
<text x="274.30" y="305.35" font-size="6.30" fill="#262626" font-weight="normal" font-style="normal" textLength="56.90" lengthAdjust="spacingAndGlyphs">haptoglobin binding</text>
<line x1="335.30" y1="304.50" x2="338.50" y2="304.50" stroke="#111111" stroke-width="0.8" />
<path d="M458.9 169.5 L462.4 175.6 L455.4 175.6 Z" fill="#b8102c"/>
<path d="M450.2 184.3 L453.7 190.4 L446.7 190.4 Z" fill="#b8102c"/>
<path d="M444.9 198.9 L448.4 205.0 L441.4 205.0 Z" fill="#b8102c"/>
<path d="M442.7 213.1 L446.2 219.2 L439.2 219.2 Z" fill="#b8102c"/>
<path d="M441.6 228.0 L445.1 234.1 L438.1 234.1 Z" fill="#b8102c"/>
<path d="M345.2 246.0 L346.8 246.0 L346.0 247.3 Z" fill="#203050"/>
<path d="M344.2 260.7 L345.8 260.7 L345.0 262.0 Z" fill="#203050"/>
<path d="M343.0 274.9 L344.6 274.9 L343.8 276.2 Z" fill="#203050"/>
<path d="M343.0 289.3 L344.6 289.3 L343.8 290.6 Z" fill="#203050"/>
<path d="M343.0 303.7 L344.6 303.7 L343.8 305.0 Z" fill="#203050"/>
<line x1="353.70" y1="312.70" x2="353.70" y2="315.30" stroke="#111111" stroke-width="0.8" />
<text x="352.30" y="324.70" font-size="6.93" fill="#262626" stroke="#262626" stroke-width="0.14" font-weight="normal" font-style="normal" textLength="3.00" lengthAdjust="spacingAndGlyphs">0</text>
<line x1="392.50" y1="312.70" x2="392.50" y2="315.30" stroke="#111111" stroke-width="0.8" />
<text x="389.50" y="324.70" font-size="6.93" fill="#262626" stroke="#262626" stroke-width="0.14" font-weight="normal" font-style="normal" textLength="6.10" lengthAdjust="spacingAndGlyphs">25</text>
<line x1="431.00" y1="312.70" x2="431.00" y2="315.30" stroke="#111111" stroke-width="0.8" />
<text x="428.00" y="324.70" font-size="6.93" fill="#262626" stroke="#262626" stroke-width="0.14" font-weight="normal" font-style="normal" textLength="6.10" lengthAdjust="spacingAndGlyphs">50</text>
<text x="364.30" y="336.90" font-size="7.77" fill="#262626" stroke="#262626" stroke-width="0.3" font-weight="normal" font-style="normal" textLength="65.60" lengthAdjust="spacingAndGlyphs">−log10(P) * sign(logFC)</text>
<text x="472.60" y="210.10" font-size="6.72" fill="#262626" stroke="#262626" stroke-width="0.14" font-weight="normal" font-style="normal" textLength="16.50" lengthAdjust="spacingAndGlyphs">Count</text>
<path d="M475.2 214.52 L477.15 217.92 L473.25 217.92 Z" fill="none" stroke="#2a2a2a" stroke-width="0.6"/>
<text x="480.90" y="218.40" font-size="6.72" fill="#262626" stroke="#262626" stroke-width="0.14" font-weight="normal" font-style="normal" textLength="6.60" lengthAdjust="spacingAndGlyphs">10</text>
<path d="M475.2 221.28 L477.84 225.88 L472.56 225.88 Z" fill="none" stroke="#2a2a2a" stroke-width="0.6"/>
<text x="480.90" y="225.80" font-size="6.72" fill="#262626" stroke="#262626" stroke-width="0.14" font-weight="normal" font-style="normal" textLength="6.60" lengthAdjust="spacingAndGlyphs">20</text>
<path d="M475.2 227.36 L478.53 233.16 L471.87 233.16 Z" fill="none" stroke="#2a2a2a" stroke-width="0.6"/>
<text x="480.90" y="232.50" font-size="6.72" fill="#262626" stroke="#262626" stroke-width="0.14" font-weight="normal" font-style="normal" textLength="6.60" lengthAdjust="spacingAndGlyphs">30</text>
<path d="M475.2 234.33 L479.11 241.13 L471.29 241.13 Z" fill="none" stroke="#2a2a2a" stroke-width="0.6"/>
<text x="480.90" y="240.00" font-size="6.72" fill="#262626" stroke="#262626" stroke-width="0.14" font-weight="normal" font-style="normal" textLength="6.60" lengthAdjust="spacingAndGlyphs">40</text>
<text x="472.60" y="254.90" font-size="6.51" fill="#262626" stroke="#262626" stroke-width="0.14" font-weight="normal" font-style="normal" textLength="17.00" lengthAdjust="spacingAndGlyphs">logFC</text>
<path d="M473.9 260.5 L476.5 260.5 L475.2 262.9 Z" fill="#151520"/>
<text x="480.90" y="263.60" font-size="6.08" fill="#262626" stroke="#262626" stroke-width="0.14" font-weight="normal" font-style="normal" textLength="15.70" lengthAdjust="spacingAndGlyphs">Down</text>
<path d="M475.2 267.3 L476.6 270.1 L473.8 270.1 Z" fill="#7a1020"/>
<text x="480.90" y="271.10" font-size="6.72" fill="#262626" stroke="#262626" stroke-width="0.14" font-weight="normal" font-style="normal" textLength="7.40" lengthAdjust="spacingAndGlyphs">Up</text>
<text x="7.90" y="365.50" font-size="10.90" fill="#000" stroke="#000" stroke-width="0.3" font-weight="bold" font-style="normal" textLength="6.20" lengthAdjust="spacingAndGlyphs">E</text>
<line x1="60.00" y1="364.80" x2="60.00" y2="467.50" stroke="#111111" stroke-width="1.4" />
<line x1="59.40" y1="466.90" x2="116.70" y2="466.90" stroke="#111111" stroke-width="1.4" />
<line x1="57.00" y1="375.50" x2="60.00" y2="375.50" stroke="#111111" stroke-width="0.8" />
<text x="43.90" y="377.70" font-size="6.72" fill="#262626" stroke="#262626" stroke-width="0.14" font-weight="normal" font-style="normal" textLength="8.80" lengthAdjust="spacingAndGlyphs">0.5</text>
<line x1="57.00" y1="402.60" x2="60.00" y2="402.60" stroke="#111111" stroke-width="0.8" />
<text x="43.90" y="404.80" font-size="6.72" fill="#262626" stroke="#262626" stroke-width="0.14" font-weight="normal" font-style="normal" textLength="8.80" lengthAdjust="spacingAndGlyphs">0.0</text>
<line x1="57.00" y1="429.60" x2="60.00" y2="429.60" stroke="#111111" stroke-width="0.8" />
<text x="40.70" y="431.80" font-size="6.72" fill="#262626" stroke="#262626" stroke-width="0.14" font-weight="normal" font-style="normal" textLength="12.00" lengthAdjust="spacingAndGlyphs">−0.5</text>
<line x1="57.00" y1="456.40" x2="60.00" y2="456.40" stroke="#111111" stroke-width="0.8" />
<text x="40.70" y="458.60" font-size="6.72" fill="#262626" stroke="#262626" stroke-width="0.14" font-weight="normal" font-style="normal" textLength="12.00" lengthAdjust="spacingAndGlyphs">−1.0</text>
<text x="28.00" y="425.70" font-size="7.14" fill="#262626" stroke="#262626" stroke-width="0.3" font-weight="normal" font-style="normal" textLength="19.40" lengthAdjust="spacingAndGlyphs" transform="rotate(-90 28.00 425.70)">log2FC</text>
<line x1="75.30" y1="377.20" x2="75.30" y2="395.90" stroke="#5a5a5a" stroke-width="0.8" />
<line x1="75.30" y1="426.70" x2="75.30" y2="462.30" stroke="#5a5a5a" stroke-width="0.8" />
<rect x="65.50" y="395.90" width="19.60" height="30.80" fill="#34ae34" />
<line x1="65.50" y1="406.90" x2="85.10" y2="406.90" stroke="#14301a" stroke-width="1.3" />
<line x1="101.55" y1="388.60" x2="101.55" y2="407.70" stroke="#5a5a5a" stroke-width="0.8" />
<line x1="101.55" y1="436.30" x2="101.55" y2="462.30" stroke="#5a5a5a" stroke-width="0.8" />
<rect x="92.20" y="407.70" width="18.70" height="28.60" fill="#c6051f" />
<line x1="92.20" y1="418.70" x2="110.90" y2="418.70" stroke="#3a0008" stroke-width="1.3" />
<path d="M75.0 372.7 V370.1 H101.4 V372.7" stroke="#3a3a3a" stroke-width="0.85" fill="none" />
<circle cx="84.60" cy="367.30" r="0.8" fill="#222"/>
<circle cx="87.40" cy="367.30" r="0.8" fill="#222"/>
<circle cx="90.20" cy="367.30" r="0.8" fill="#222"/>
<circle cx="93.00" cy="367.30" r="0.8" fill="#222"/>
<line x1="75.40" y1="466.90" x2="75.40" y2="469.30" stroke="#111111" stroke-width="0.8" />
<line x1="101.20" y1="466.90" x2="101.20" y2="469.30" stroke="#111111" stroke-width="0.8" />
<text x="71.10" y="479.70" font-size="6.93" fill="#262626" stroke="#262626" stroke-width="0.14" font-weight="normal" font-style="normal" textLength="8.60" lengthAdjust="spacingAndGlyphs">HC</text>
<text x="97.20" y="479.70" font-size="6.93" fill="#262626" stroke="#262626" stroke-width="0.14" font-weight="normal" font-style="normal" textLength="7.60" lengthAdjust="spacingAndGlyphs">PV</text>
<text x="55.20" y="490.70" font-size="6.09" fill="#262626" stroke="#262626" stroke-width="0.14" font-weight="normal" font-style="normal" textLength="18.30" lengthAdjust="spacingAndGlyphs">Source</text>
<line x1="82.30" y1="484.60" x2="82.30" y2="492.30" stroke="#1f6a1f" stroke-width="0.7" />
<rect x="78.90" y="485.80" width="6.80" height="5.30" fill="#34ae34" />
<line x1="78.90" y1="488.45" x2="85.70" y2="488.45" stroke="#1f6a1f" stroke-width="0.8" />
<text x="89.10" y="490.70" font-size="6.09" fill="#262626" stroke="#262626" stroke-width="0.14" font-weight="normal" font-style="normal" textLength="8.30" lengthAdjust="spacingAndGlyphs">HC</text>
<line x1="107.70" y1="484.80" x2="107.70" y2="492.10" stroke="#6a0010" stroke-width="0.7" />
<rect x="104.20" y="486.00" width="7.00" height="4.90" fill="#c6051f" />
<line x1="104.20" y1="488.45" x2="111.20" y2="488.45" stroke="#6a0010" stroke-width="0.8" />
<text x="114.10" y="490.70" font-size="6.09" fill="#262626" stroke="#262626" stroke-width="0.14" font-weight="normal" font-style="normal" textLength="7.10" lengthAdjust="spacingAndGlyphs">PV</text>
<text x="140.10" y="365.70" font-size="10.90" fill="#000" stroke="#000" stroke-width="0.3" font-weight="bold" font-style="normal" textLength="6.80" lengthAdjust="spacingAndGlyphs">F</text>
<text x="184.50" y="366.00" font-size="7.98" fill="#262626" stroke="#262626" stroke-width="0.18" font-weight="normal" font-style="italic" textLength="32.70" lengthAdjust="spacingAndGlyphs">RPL18A</text>
<line x1="172.40" y1="378.30" x2="172.40" y2="467.60" stroke="#111111" stroke-width="1.45" />
<line x1="171.80" y1="467.00" x2="229.00" y2="467.00" stroke="#111111" stroke-width="1.45" />
<line x1="169.60" y1="383.20" x2="172.40" y2="383.20" stroke="#111111" stroke-width="0.8" />
<text x="162.90" y="385.30" font-size="6.51" fill="#262626" stroke="#262626" stroke-width="0.14" font-weight="normal" font-style="normal" textLength="3.00" lengthAdjust="spacingAndGlyphs">4</text>
<line x1="169.60" y1="404.50" x2="172.40" y2="404.50" stroke="#111111" stroke-width="0.8" />
<text x="162.90" y="406.60" font-size="6.51" fill="#262626" stroke="#262626" stroke-width="0.14" font-weight="normal" font-style="normal" textLength="3.00" lengthAdjust="spacingAndGlyphs">2</text>
<line x1="169.60" y1="425.20" x2="172.40" y2="425.20" stroke="#111111" stroke-width="0.8" />
<text x="162.90" y="427.30" font-size="6.51" fill="#262626" stroke="#262626" stroke-width="0.14" font-weight="normal" font-style="normal" textLength="3.00" lengthAdjust="spacingAndGlyphs">0</text>
<line x1="169.60" y1="446.00" x2="172.40" y2="446.00" stroke="#111111" stroke-width="0.8" />
<text x="158.90" y="448.10" font-size="6.51" fill="#262626" stroke="#262626" stroke-width="0.14" font-weight="normal" font-style="normal" textLength="7.00" lengthAdjust="spacingAndGlyphs">−2</text>
<line x1="169.60" y1="466.80" x2="172.40" y2="466.80" stroke="#111111" stroke-width="0.8" />
<text x="159.10" y="468.90" font-size="6.51" fill="#262626" stroke="#262626" stroke-width="0.14" font-weight="normal" font-style="normal" textLength="6.80" lengthAdjust="spacingAndGlyphs">−4</text>
<text x="139.90" y="437.50" font-size="6.09" fill="#262626" stroke="#262626" stroke-width="0.25" font-weight="normal" font-style="normal" textLength="28.70" lengthAdjust="spacingAndGlyphs" transform="rotate(-90 139.90 437.50)">LOG2(FC)</text>
<text x="151.80" y="452.20" font-size="6.30" fill="#262626" stroke="#262626" stroke-width="0.25" font-weight="normal" font-style="normal" textLength="60.60" lengthAdjust="spacingAndGlyphs" transform="rotate(-90 151.80 452.20)">upon IFNa stimulation</text>
<rect x="181.20" y="418.50" width="14.60" height="15.50" fill="#c2e6b2" />
<rect x="181.20" y="418.50" width="14.60" height="15.50" fill="none" stroke="#9ad08a" stroke-width="0.5"/>
<line x1="188.50" y1="410.00" x2="188.50" y2="418.50" stroke="#3a6a3a" stroke-width="0.8" />
<line x1="188.50" y1="434.00" x2="188.50" y2="443.00" stroke="#3a6a3a" stroke-width="0.8" />
<line x1="185.00" y1="410.00" x2="192.20" y2="410.00" stroke="#3a6a3a" stroke-width="0.9" />
<line x1="185.00" y1="443.00" x2="192.20" y2="443.00" stroke="#3a6a3a" stroke-width="0.9" />
<line x1="181.20" y1="423.50" x2="195.80" y2="423.50" stroke="#1a3a12" stroke-width="1.4" />
<circle cx="188.50" cy="410.00" r="0.75" fill="#3aa040"/>
<circle cx="189.50" cy="418.40" r="0.75" fill="#3aa040"/>
<circle cx="186.50" cy="421.00" r="0.75" fill="#3aa040"/>
<circle cx="190.00" cy="424.00" r="0.75" fill="#3aa040"/>
<circle cx="187.60" cy="426.50" r="0.75" fill="#3aa040"/>
<circle cx="191.00" cy="429.00" r="0.75" fill="#3aa040"/>
<circle cx="186.00" cy="432.00" r="0.75" fill="#3aa040"/>
<circle cx="189.50" cy="434.20" r="0.75" fill="#3aa040"/>
<circle cx="188.50" cy="443.00" r="0.75" fill="#3aa040"/>
<line x1="213.00" y1="393.60" x2="213.00" y2="425.00" stroke="#8a8a8a" stroke-width="0.9" />
<rect x="205.00" y="425.00" width="15.00" height="18.50" fill="#f2c8a0" />
<rect x="205.00" y="425.00" width="15.00" height="18.50" fill="none" stroke="#e0a878" stroke-width="0.5"/>
<line x1="213.00" y1="443.50" x2="213.00" y2="446.00" stroke="#7a4a20" stroke-width="0.8" />
<line x1="209.50" y1="446.00" x2="216.50" y2="446.00" stroke="#7a4a20" stroke-width="0.9" />
<line x1="209.80" y1="393.60" x2="216.20" y2="393.60" stroke="#4a4a4a" stroke-width="1.0" />
<line x1="205.00" y1="435.20" x2="220.00" y2="435.20" stroke="#4a2a10" stroke-width="1.4" />
<circle cx="209.50" cy="425.30" r="0.75" fill="#b86a30"/>
<circle cx="213.00" cy="425.30" r="0.75" fill="#b86a30"/>
<circle cx="216.00" cy="425.30" r="0.75" fill="#b86a30"/>
<circle cx="213.00" cy="429.50" r="0.75" fill="#b86a30"/>
<circle cx="209.50" cy="440.50" r="0.75" fill="#b86a30"/>
<circle cx="213.50" cy="441.50" r="0.75" fill="#b86a30"/>
<circle cx="213.00" cy="446.00" r="0.75" fill="#b86a30"/>
<path d="M188.5 404.5 V384.0 H213.0 V387.6" stroke="#1a1a1a" stroke-width="0.9" fill="none" />
<line x1="173" y1="425.3" x2="229.5" y2="425.3" stroke="#333" stroke-width="0.7" stroke-dasharray="0.9 1.1"/>
<text x="190.30" y="381.00" font-size="5.88" fill="#262626" stroke="#262626" stroke-width="0.14" font-weight="normal" font-style="normal" textLength="20.70" lengthAdjust="spacingAndGlyphs">0.0804</text>
<line x1="188.50" y1="467.00" x2="188.50" y2="469.60" stroke="#111111" stroke-width="0.8" />
<line x1="213.00" y1="467.00" x2="213.00" y2="469.60" stroke="#111111" stroke-width="0.8" />
<text x="184.90" y="478.50" font-size="5.88" fill="#262626" stroke="#262626" stroke-width="0.14" font-weight="normal" font-style="normal" textLength="6.80" lengthAdjust="spacingAndGlyphs">wt</text>
<text x="207.30" y="478.50" font-size="5.88" fill="#262626" stroke="#262626" stroke-width="0.14" font-weight="normal" font-style="normal" textLength="10.40" lengthAdjust="spacingAndGlyphs">mut</text>
<text x="250.10" y="365.70" font-size="10.90" fill="#000" stroke="#000" stroke-width="0.3" font-weight="bold" font-style="normal" textLength="8.00" lengthAdjust="spacingAndGlyphs">G</text>
<text x="308.00" y="366.00" font-size="7.92" fill="#222222" stroke="#222222" stroke-width="0.18" font-weight="normal" font-style="italic" textLength="25.60" lengthAdjust="spacingAndGlyphs">STAT1</text>
<text x="415.10" y="366.00" font-size="7.92" fill="#222222" stroke="#222222" stroke-width="0.18" font-weight="normal" font-style="italic" textLength="32.80" lengthAdjust="spacingAndGlyphs">RPL18A</text>
<line x1="290.20" y1="374.00" x2="290.20" y2="449.50" stroke="#111111" stroke-width="1.45" />
<line x1="289.60" y1="448.90" x2="352.00" y2="448.90" stroke="#111111" stroke-width="1.45" />
<line x1="287.20" y1="378.60" x2="290.20" y2="378.60" stroke="#111111" stroke-width="0.8" />
<text x="272.50" y="380.60" font-size="6.82" fill="#222222" stroke="#222222" stroke-width="0.16" font-weight="normal" font-style="normal" textLength="11.20" lengthAdjust="spacingAndGlyphs">800</text>
<line x1="287.20" y1="396.40" x2="290.20" y2="396.40" stroke="#111111" stroke-width="0.8" />
<text x="272.50" y="398.40" font-size="6.82" fill="#222222" stroke="#222222" stroke-width="0.16" font-weight="normal" font-style="normal" textLength="11.20" lengthAdjust="spacingAndGlyphs">600</text>
<line x1="287.20" y1="414.00" x2="290.20" y2="414.00" stroke="#111111" stroke-width="0.8" />
<text x="272.50" y="416.00" font-size="6.82" fill="#222222" stroke="#222222" stroke-width="0.16" font-weight="normal" font-style="normal" textLength="11.20" lengthAdjust="spacingAndGlyphs">400</text>
<line x1="287.20" y1="431.60" x2="290.20" y2="431.60" stroke="#111111" stroke-width="0.8" />
<text x="272.50" y="433.60" font-size="6.82" fill="#222222" stroke="#222222" stroke-width="0.16" font-weight="normal" font-style="normal" textLength="11.20" lengthAdjust="spacingAndGlyphs">200</text>
<line x1="287.20" y1="448.90" x2="290.20" y2="448.90" stroke="#111111" stroke-width="0.8" />
<text x="280.90" y="450.90" font-size="6.82" fill="#222222" stroke="#222222" stroke-width="0.16" font-weight="normal" font-style="normal" textLength="2.80" lengthAdjust="spacingAndGlyphs">0</text>
<text x="256.10" y="425.70" font-size="6.82" fill="#222222" stroke="#222222" stroke-width="0.25" font-weight="normal" font-style="italic" textLength="29.40" lengthAdjust="spacingAndGlyphs" transform="rotate(-90 256.10 425.70)">% GAPDH</text>
<text x="266.10" y="436.70" font-size="6.82" fill="#222222" stroke="#222222" stroke-width="0.25" font-weight="normal" font-style="normal" textLength="49.40" lengthAdjust="spacingAndGlyphs" transform="rotate(-90 266.10 436.70)">[median ± range]</text>
<line x1="335.50" y1="396.60" x2="335.50" y2="427.80" stroke="#555" stroke-width="0.8" />
<rect x="328.30" y="427.80" width="14.40" height="16.70" fill="#a68cbf" />
<rect x="328.30" y="427.80" width="14.40" height="16.70" fill="none" stroke="#9070b0" stroke-width="0.5"/>
<line x1="335.50" y1="444.50" x2="335.50" y2="447.30" stroke="#3a1450" stroke-width="0.9" />
<line x1="331.80" y1="447.30" x2="339.30" y2="447.30" stroke="#3a1450" stroke-width="1.0" />
<line x1="332.80" y1="396.60" x2="338.20" y2="396.60" stroke="#2a1030" stroke-width="1.0" />
<line x1="328.30" y1="441.10" x2="342.70" y2="441.10" stroke="#3a1450" stroke-width="1.3" />
<circle cx="335.50" cy="396.60" r="0.95" fill="#4a1060"/>
<circle cx="335.30" cy="437.90" r="0.95" fill="#4a1060"/>
<circle cx="333.50" cy="441.00" r="0.95" fill="#4a1060"/>
<circle cx="337.50" cy="441.00" r="0.95" fill="#4a1060"/>
<circle cx="335.50" cy="444.50" r="0.95" fill="#4a1060"/>
<circle cx="335.50" cy="447.30" r="0.95" fill="#4a1060"/>
<path d="M296.6 448.8 Q299 447.5 300.5 445 Q303 442 305.5 443.5 Q308 442 310.5 444.5 Q312.5 447 314.5 448.8 Z" fill="#d8303e"/>
<circle cx="301.50" cy="444.60" r="0.9" fill="#c8102e"/>
<circle cx="304.20" cy="443.20" r="0.9" fill="#c8102e"/>
<circle cx="308.50" cy="442.60" r="0.9" fill="#c8102e"/>
<circle cx="310.60" cy="445.50" r="0.9" fill="#c8102e"/>
<circle cx="299.00" cy="447.40" r="0.9" fill="#c8102e"/>
<circle cx="303.00" cy="447.20" r="0.9" fill="#c8102e"/>
<circle cx="306.00" cy="446.60" r="0.9" fill="#c8102e"/>
<circle cx="308.50" cy="447.60" r="0.9" fill="#c8102e"/>
<circle cx="312.00" cy="447.80" r="0.9" fill="#c8102e"/>
<circle cx="305.00" cy="448.20" r="0.9" fill="#c8102e"/>
<line x1="306.40" y1="388.00" x2="306.40" y2="441.80" stroke="#555" stroke-width="0.8" />
<line x1="303.60" y1="441.80" x2="309.20" y2="441.80" stroke="#444" stroke-width="0.8" />
<path d="M306.4 388.0 H335.5 V391.5" stroke="#555" stroke-width="0.8" fill="none" />
<circle cx="322.60" cy="383.10" r="0.8" fill="#222"/>
<circle cx="325.40" cy="383.10" r="0.8" fill="#222"/>
<line x1="306.40" y1="448.90" x2="306.40" y2="451.20" stroke="#111111" stroke-width="0.8" />
<line x1="335.50" y1="448.90" x2="335.50" y2="451.20" stroke="#111111" stroke-width="0.8" />
<text x="294.90" y="462.10" font-size="6.82" fill="#222222" stroke="#222222" stroke-width="0.16" font-weight="normal" font-style="normal" textLength="23.40" lengthAdjust="spacingAndGlyphs">no cyto-</text>
<text x="293.30" y="469.50" font-size="6.82" fill="#222222" stroke="#222222" stroke-width="0.16" font-weight="normal" font-style="normal" textLength="25.80" lengthAdjust="spacingAndGlyphs">reductive</text>
<text x="296.30" y="477.90" font-size="6.82" fill="#222222" stroke="#222222" stroke-width="0.16" font-weight="normal" font-style="normal" textLength="20.00" lengthAdjust="spacingAndGlyphs">therapy</text>
<text x="297.30" y="485.50" font-size="6.82" fill="#222222" stroke="#222222" stroke-width="0.16" font-weight="normal" font-style="normal" textLength="17.40" lengthAdjust="spacingAndGlyphs">n = 10</text>
<text x="328.30" y="462.10" font-size="6.82" fill="#222222" stroke="#222222" stroke-width="0.16" font-weight="normal" font-style="normal" textLength="13.40" lengthAdjust="spacingAndGlyphs">IFNa</text>
<text x="328.30" y="485.50" font-size="6.82" fill="#222222" stroke="#222222" stroke-width="0.16" font-weight="normal" font-style="normal" textLength="14.40" lengthAdjust="spacingAndGlyphs">n = 6</text>
<line x1="404.20" y1="373.10" x2="404.20" y2="449.50" stroke="#111111" stroke-width="1.45" />
<line x1="403.60" y1="448.90" x2="457.60" y2="448.90" stroke="#111111" stroke-width="1.45" />
<line x1="401.20" y1="378.80" x2="404.20" y2="378.80" stroke="#111111" stroke-width="0.8" />
<text x="386.60" y="380.80" font-size="6.82" fill="#222222" stroke="#222222" stroke-width="0.16" font-weight="normal" font-style="normal" textLength="10.80" lengthAdjust="spacingAndGlyphs">250</text>
<line x1="401.20" y1="392.90" x2="404.20" y2="392.90" stroke="#111111" stroke-width="0.8" />
<text x="386.60" y="394.90" font-size="6.82" fill="#222222" stroke="#222222" stroke-width="0.16" font-weight="normal" font-style="normal" textLength="10.80" lengthAdjust="spacingAndGlyphs">200</text>
<line x1="401.20" y1="407.00" x2="404.20" y2="407.00" stroke="#111111" stroke-width="0.8" />
<text x="386.60" y="409.00" font-size="6.82" fill="#222222" stroke="#222222" stroke-width="0.16" font-weight="normal" font-style="normal" textLength="10.80" lengthAdjust="spacingAndGlyphs">150</text>
<line x1="401.20" y1="421.00" x2="404.20" y2="421.00" stroke="#111111" stroke-width="0.8" />
<text x="386.60" y="423.00" font-size="6.82" fill="#222222" stroke="#222222" stroke-width="0.16" font-weight="normal" font-style="normal" textLength="10.80" lengthAdjust="spacingAndGlyphs">100</text>
<line x1="401.20" y1="435.00" x2="404.20" y2="435.00" stroke="#111111" stroke-width="0.8" />
<text x="389.90" y="437.00" font-size="6.82" fill="#222222" stroke="#222222" stroke-width="0.16" font-weight="normal" font-style="normal" textLength="7.50" lengthAdjust="spacingAndGlyphs">50</text>
<line x1="401.20" y1="448.90" x2="404.20" y2="448.90" stroke="#111111" stroke-width="0.8" />
<text x="393.70" y="450.90" font-size="6.82" fill="#222222" stroke="#222222" stroke-width="0.16" font-weight="normal" font-style="normal" textLength="3.70" lengthAdjust="spacingAndGlyphs">0</text>
<text x="369.30" y="427.90" font-size="6.82" fill="#222222" stroke="#222222" stroke-width="0.25" font-weight="normal" font-style="italic" textLength="28.90" lengthAdjust="spacingAndGlyphs" transform="rotate(-90 369.30 427.90)">% GAPDH</text>
<text x="379.80" y="436.60" font-size="6.82" fill="#222222" stroke="#222222" stroke-width="0.25" font-weight="normal" font-style="normal" textLength="47.40" lengthAdjust="spacingAndGlyphs" transform="rotate(-90 379.80 436.60)">[median ± range]</text>
<line x1="418.00" y1="394.50" x2="418.00" y2="409.40" stroke="#555" stroke-width="0.8" />
<line x1="418.00" y1="430.60" x2="418.00" y2="442.40" stroke="#555" stroke-width="0.8" />
<rect x="411.60" y="409.40" width="12.80" height="21.20" fill="#ee9888" />
<rect x="411.60" y="409.40" width="12.80" height="21.20" fill="none" stroke="#e07a6a" stroke-width="0.5"/>
<line x1="415.40" y1="394.50" x2="420.80" y2="394.50" stroke="#3a1020" stroke-width="1.0" />
<line x1="415.00" y1="442.40" x2="421.00" y2="442.40" stroke="#3a1020" stroke-width="1.0" />
<line x1="411.60" y1="418.40" x2="424.40" y2="418.40" stroke="#4a0a14" stroke-width="1.3" />
<circle cx="418.00" cy="394.50" r="1.05" fill="#9a1024"/>
<circle cx="418.20" cy="403.60" r="1.05" fill="#9a1024"/>
<circle cx="417.70" cy="413.80" r="1.05" fill="#9a1024"/>
<circle cx="415.80" cy="418.30" r="1.05" fill="#9a1024"/>
<circle cx="420.00" cy="418.30" r="1.05" fill="#9a1024"/>
<circle cx="420.00" cy="421.00" r="1.05" fill="#9a1024"/>
<circle cx="415.50" cy="422.70" r="1.05" fill="#9a1024"/>
<circle cx="415.50" cy="442.20" r="1.05" fill="#9a1024"/>
<circle cx="420.00" cy="440.40" r="1.05" fill="#9a1024"/>
<line x1="444.60" y1="385.60" x2="444.60" y2="421.00" stroke="#777" stroke-width="0.8" />
<line x1="444.60" y1="444.40" x2="444.60" y2="446.60" stroke="#3a1450" stroke-width="0.8" />
<rect x="438.40" y="421.00" width="12.60" height="23.40" fill="#a68cbf" />
<rect x="438.40" y="421.00" width="12.60" height="23.40" fill="none" stroke="#9070b0" stroke-width="0.5"/>
<line x1="442.00" y1="413.40" x2="447.20" y2="413.40" stroke="#2a1030" stroke-width="1.0" />
<line x1="442.00" y1="446.60" x2="447.20" y2="446.60" stroke="#2a1030" stroke-width="1.0" />
<line x1="438.40" y1="436.40" x2="451.00" y2="436.40" stroke="#3a1450" stroke-width="1.3" />
<circle cx="444.60" cy="413.40" r="1.05" fill="#4a1058"/>
<circle cx="444.70" cy="423.10" r="1.05" fill="#4a1058"/>
<circle cx="444.70" cy="433.30" r="1.05" fill="#4a1058"/>
<circle cx="444.70" cy="439.00" r="1.05" fill="#4a1058"/>
<circle cx="444.70" cy="444.00" r="1.05" fill="#4a1058"/>
<circle cx="444.60" cy="446.40" r="1.05" fill="#4a1058"/>
<path d="M417.7 394.5 V385.8 H444.6" stroke="#666" stroke-width="0.75" fill="none" />
<text x="420.30" y="382.50" font-size="6.16" fill="#222222" stroke="#222222" stroke-width="0.16" font-weight="normal" font-style="normal" textLength="21.40" lengthAdjust="spacingAndGlyphs">0.0865</text>
<line x1="418.00" y1="448.90" x2="418.00" y2="451.20" stroke="#111111" stroke-width="0.8" />
<line x1="444.60" y1="448.90" x2="444.60" y2="451.20" stroke="#111111" stroke-width="0.8" />
<text x="407.90" y="461.50" font-size="6.82" fill="#222222" stroke="#222222" stroke-width="0.16" font-weight="normal" font-style="normal" textLength="19.80" lengthAdjust="spacingAndGlyphs">various</text>
<text x="404.90" y="469.50" font-size="6.82" fill="#222222" stroke="#222222" stroke-width="0.16" font-weight="normal" font-style="normal" textLength="25.80" lengthAdjust="spacingAndGlyphs">therapies</text>
<text x="409.90" y="477.90" font-size="6.82" fill="#222222" stroke="#222222" stroke-width="0.16" font-weight="normal" font-style="normal" textLength="15.40" lengthAdjust="spacingAndGlyphs">n = 9</text>
<text x="438.30" y="461.50" font-size="6.82" fill="#222222" stroke="#222222" stroke-width="0.16" font-weight="normal" font-style="normal" textLength="13.00" lengthAdjust="spacingAndGlyphs">IFNa</text>
<text x="437.30" y="477.90" font-size="6.82" fill="#222222" stroke="#222222" stroke-width="0.16" font-weight="normal" font-style="normal" textLength="14.80" lengthAdjust="spacingAndGlyphs">n = 6</text>
<rect x="0.5" y="0.5" width="519" height="499" fill="none" stroke="#4a4a4a" stroke-width="1.1"/>
</g>
</svg>
</body></html>
